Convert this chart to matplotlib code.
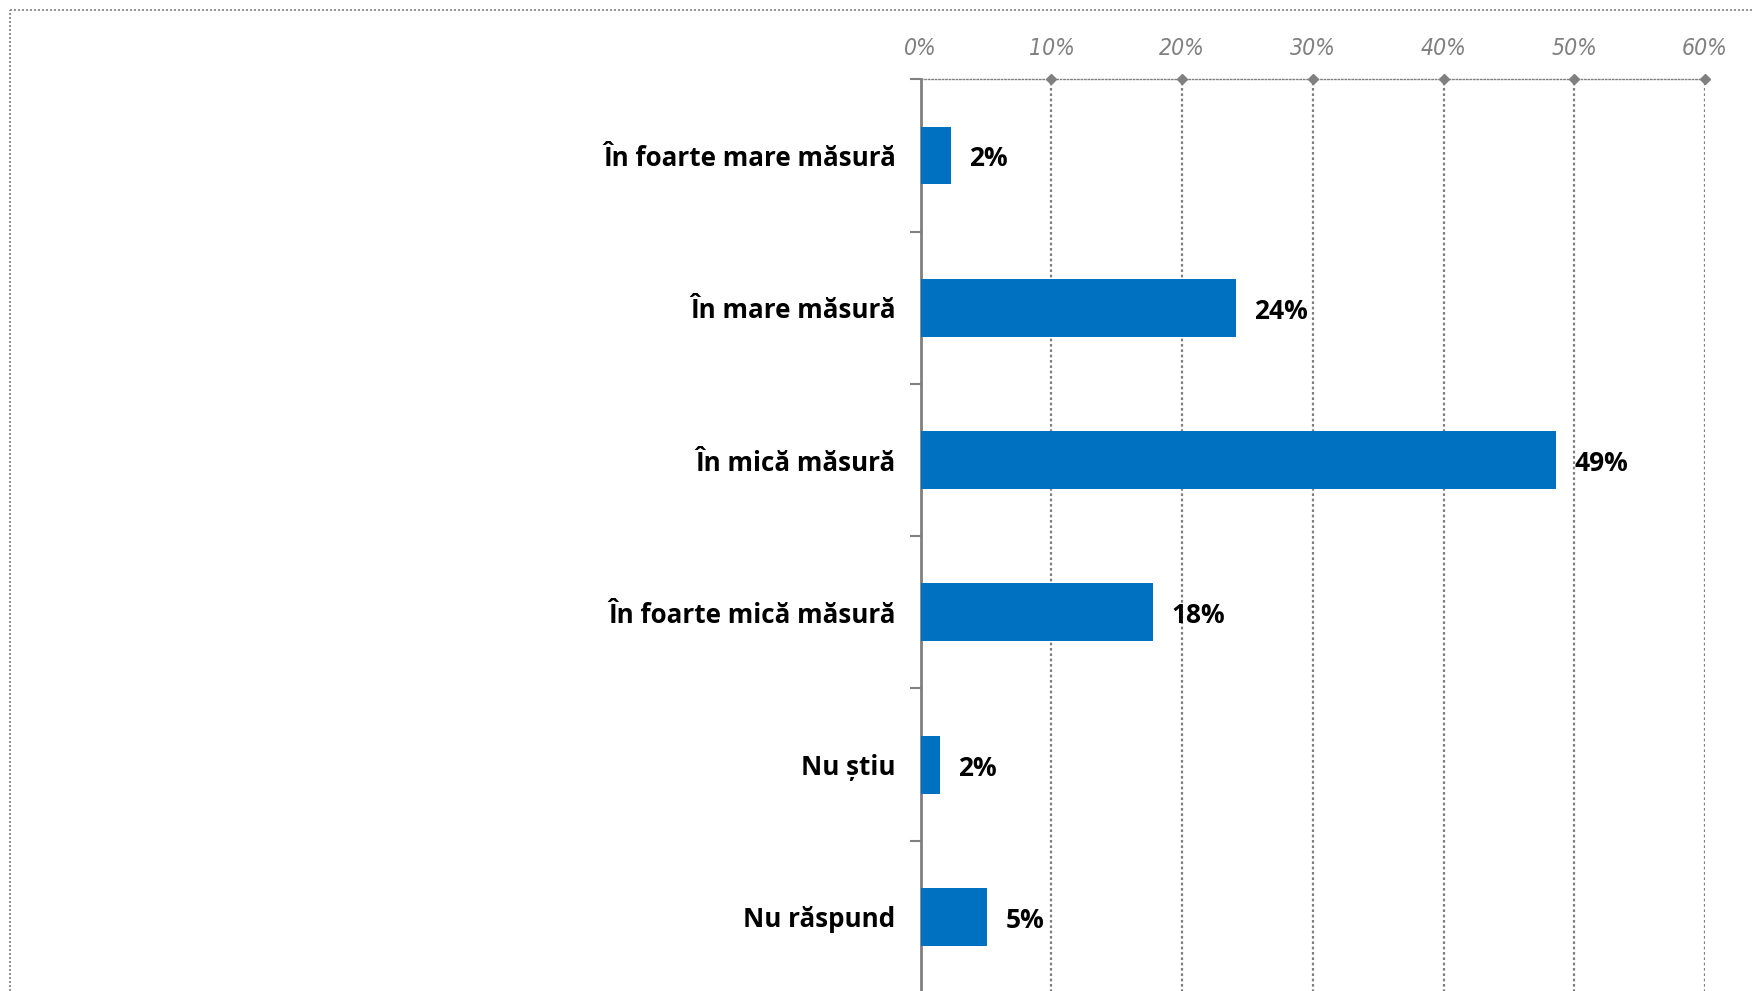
#!/usr/bin/env python3
"""Horizontal bar chart: response shares per category."""

import matplotlib

matplotlib.use("Agg")
import matplotlib.pyplot as plt
from matplotlib.lines import Line2D
from matplotlib.ticker import FixedLocator

categories = [
    "În foarte mare măsură",
    "În mare măsură",
    "În mică măsură",
    "În foarte mică măsură",
    "Nu știu",
    "Nu răspund",
]
values = [2.3, 24.1, 48.6, 17.8, 1.5, 5.1]
value_labels = ["2%", "24%", "49%", "18%", "2%", "5%"]
x_ticks = [0, 10, 20, 30, 40, 50, 60]
x_tick_labels = ["0%", "10%", "20%", "30%", "40%", "50%", "60%"]

BAR_COLOR = "#0070C0"
GREY = "#808080"
FONT = ["Open Sans", "DejaVu Sans"]

fig = plt.figure(figsize=(17.54, 9.91), dpi=100)
ax = fig.add_axes([0.5249, -0.002, 0.4472, 0.9219])

ypos = list(range(len(categories)))
ax.barh(ypos, values, height=0.38, color=BAR_COLOR, zorder=3)

for y, v, lab in zip(ypos, values, value_labels):
    ax.annotate(lab, (v, y), xytext=(13, -2.5), textcoords="offset points",
                va="center", ha="left", fontsize=19, fontweight="bold",
                family=FONT, color="black")

ax.set_xlim(0, 60)
ax.set_ylim(len(categories) - 0.5, -0.5)

# x axis on top, italic grey labels
ax.xaxis.tick_top()
ax.set_xticks(x_ticks)
ax.set_xticklabels(x_tick_labels, fontsize=16.5, style="italic", color=GREY,
                   family=["DejaVu Sans"], stretch="condensed")
ax.tick_params(axis="x", length=0, pad=14)
ax.grid(axis="x", linestyle=(0, (1.2, 1.2)), color=GREY, linewidth=1.6, zorder=0)

# diamond markers on top spine
ax.plot(x_ticks[1:], [1] * (len(x_ticks) - 1), linestyle="none", marker="D",
        markersize=5, color=GREY, transform=ax.get_xaxis_transform(),
        clip_on=False, zorder=4)

# y axis: labels at categories, tick marks at category boundaries
ax.set_yticks(ypos)
ax.set_yticklabels(categories, fontsize=18.7, fontweight="bold", family=FONT)
ax.tick_params(axis="y", length=0, pad=18)
ax.yaxis.set_minor_locator(FixedLocator([i - 0.5 for i in range(len(categories) + 1)]))
ax.tick_params(axis="y", which="minor", length=8, width=1.5, color=GREY)

for side in ("right", "bottom"):
    ax.spines[side].set_visible(False)
ax.spines["left"].set_color(GREY)
ax.spines["left"].set_linewidth(2)
ax.spines["top"].set_color(GREY)
ax.spines["top"].set_linewidth(1.0)
ax.spines["top"].set_linestyle((0, (1, 1.5)))

# dotted frame around the chart area (top and left edges visible)
fig.add_artist(Line2D([0.0057, 1.0], [0.99, 0.99], transform=fig.transFigure,
                      color=GREY, linewidth=1.2, linestyle=(0, (1.2, 1.2))))
fig.add_artist(Line2D([0.0057, 0.0057], [0.0, 0.99], transform=fig.transFigure,
                      color=GREY, linewidth=1.2, linestyle=(0, (1.2, 1.2))))

fig.savefig("out.png", dpi=100)
